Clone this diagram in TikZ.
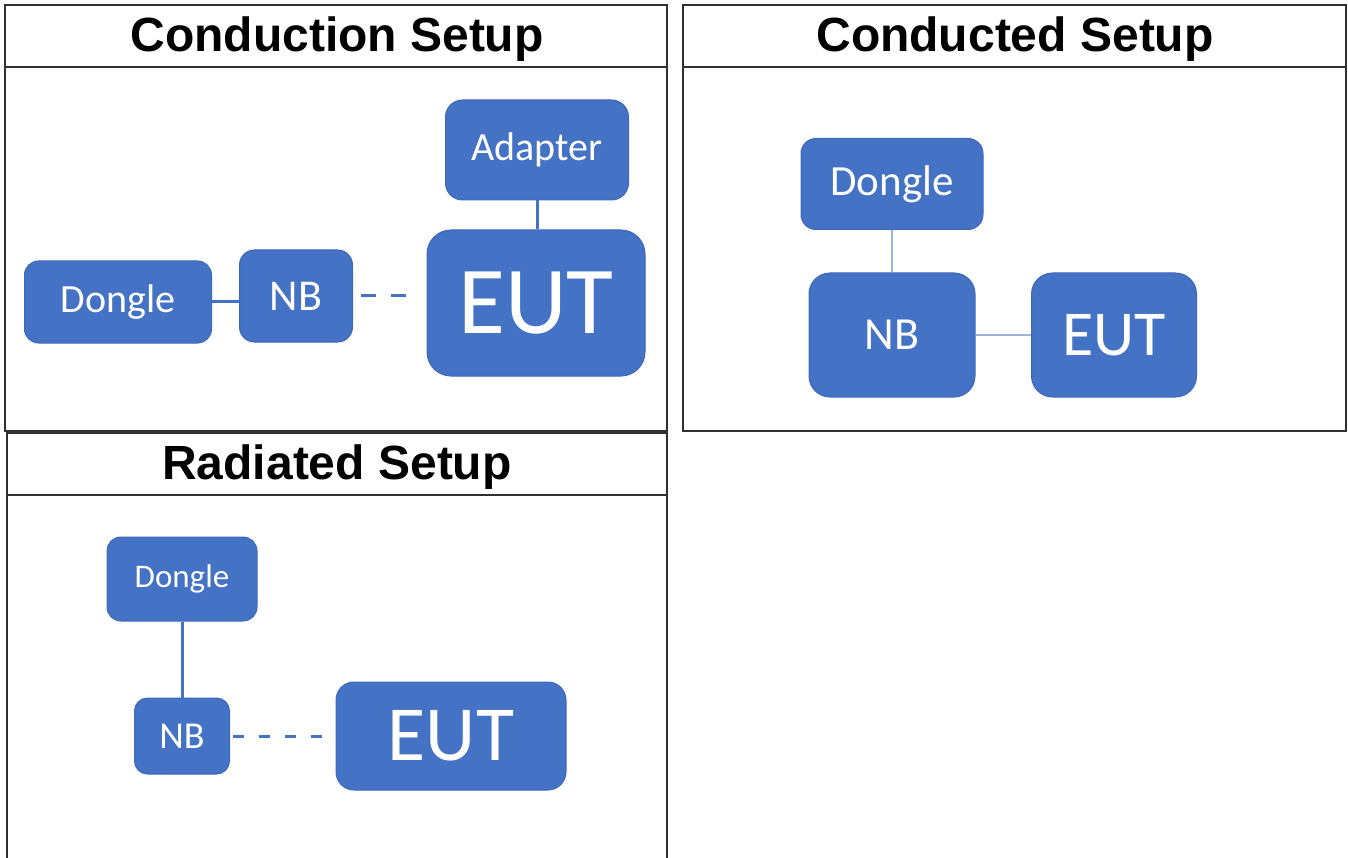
\documentclass[tikz,border=0pt]{standalone}
\usepackage{fontspec}
\setmainfont{Liberation Sans}
\newfontfamily\calib{Carlito}
\definecolor{boxblue}{HTML}{4472C4}
\definecolor{boxline}{HTML}{3E69B8}
\definecolor{thinblue}{HTML}{9DB3DE}
\definecolor{framegray}{HTML}{303030}

\tikzset{
blk/.style n args = {4}{
	rectangle, rounded corners=#3pt, fill=boxblue, draw=boxline, line width=1pt,
	minimum width=#1pt, minimum height=#2pt, inner sep=0pt, text=white,
	font=\calib\fontsize{#4}{#4}\selectfont
	},
title/.style = {anchor=base, inner sep=0pt, font=\bfseries\fontsize{48}{48}\selectfont},
frame/.style = {draw=framegray, line width=1.6pt},
link/.style = {draw=boxblue, line width=3pt},
thinlink/.style = {draw=thinblue, line width=1.6pt},
wireless/.style = {link, dash pattern=on 15pt off 15pt}
}

\begin{document}
\begin{tikzpicture}[x=1pt,y=-1pt]
\useasboundingbox (0,0) rectangle (1348,858);

% panels
\draw[frame] (5,5) rectangle (667,431);
\draw[frame] (5,67) -- (667,67);
\draw[frame] (683,5) rectangle (1346,431);
\draw[frame] (683,67) -- (1346,67);
\draw[frame] (7,860) -- (7,433) -- (667,433) -- (667,860);
\draw[frame] (7,495) -- (667,495);

\node[title] (tcond) at (337,52) {Conduction Setup};
\node[title] (tcted) at (1015,52) {Conducted Setup};
\node[title] (trad) at (337,479) {Radiated Setup};

% conduction setup
\node[blk={187}{82}{14}{40}] (dongA) at (118,302) {Dongle};
\node[blk={113}{92}{15}{44}] (nbA) at (296,296) {NB};
\node[blk={218}{146}{24}{96}] (eutA) at (536,303) {EUT};
\node[blk={183}{100}{17}{40}] (adpA) at (537,150) {Adapter};

\draw[link] (dongA.east) -- (dongA.east -| nbA.west);
\draw[link] (adpA) -- (adpA |- eutA.north);
\draw[wireless, shorten <=8pt, shorten >=13pt] (nbA.east) -- (nbA.east -| eutA.west);

% conducted setup
\node[blk={182}{91}{15}{43}] (dongB) at (892,184) {Dongle};
\node[blk={166}{124}{21}{46}] (nbB) at (892,335) {NB};
\node[blk={165}{124}{21}{64}] (eutB) at (1114,335) {EUT};

\draw[thinlink] (dongB) -- (nbB);
\draw[thinlink] (nbB) -- (eutB);

% radiated setup
\node[blk={150}{84}{14}{33}] (dongC) at (182,579) {Dongle};
\node[blk={95}{76}{13}{38}] (nbC) at (182,736) {NB};
\node[blk={230}{108}{18}{78}] (eutC) at (451,736) {EUT};

\draw[link] (dongC) -- (nbC);
\draw[link, dash pattern=on 11pt off 15pt, shorten <=3pt, shorten >=9pt] (nbC) -- (eutC);
\end{tikzpicture}
\end{document}
